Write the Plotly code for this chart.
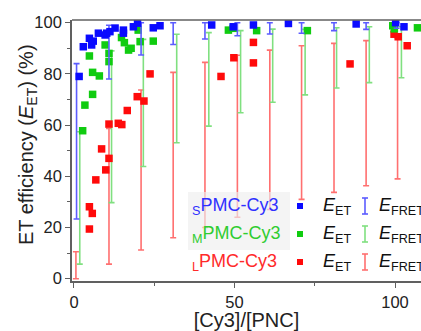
import plotly.graph_objects as go

# ---------------- data ----------------
s_x = [1.6, 2.9, 4.8, 5.5, 6.0, 7.6, 9.7, 10.2, 11.2, 12.8, 15.4, 15.4, 18.5, 19.8, 24.7, 26.8, 42.9, 49.6, 55.9, 66.8, 87.9, 100.2, 102.8]
s_y = [79, 90.6, 93.9, 91.3, 92.8, 95.9, 95.2, 95.9, 96.5, 97.9, 97.1, 95.9, 98.4, 99.8, 98, 98.8, 99.1, 98.4, 99.1, 99.7, 99.5, 100, 98.4]

m_x = [2.7, 3.4, 4.8, 5.8, 5.8, 7.9, 9.7, 10.9, 10.9, 14.8, 15.7, 17.0, 17.8, 20.0, 20.6, 24.7, 48.1, 49.6, 56.9, 72.7, 99.3, 99.8, 107]
m_y = [57.8, 67.8, 87, 72, 80.6, 79.2, 91.3, 88, 84.8, 94.2, 92.2, 89.3, 90, 97.1, 92.6, 92.8, 97.1, 97.8, 96.9, 96.9, 98.8, 97.6, 98]

l_x = [4.8, 5.7, 4.8, 6.8, 8.6, 9.9, 10.9, 10.9, 13.8, 14.9, 16.6, 19.7, 21.8, 23.7, 45.8, 49.8, 55.9, 55.9, 86, 99.7, 101, 103.8]
l_y = [28.1, 25.5, 19.4, 38.6, 50.7, 42.5, 47, 60.4, 60.7, 60.2, 65.7, 71.1, 69.4, 80, 79, 86.3, 92.3, 84.3, 83.9, 95.5, 94.5, 91]

s_fx = [0.8, 10.9, 20.9, 30.9, 40.8, 50.9, 61, 70.9, 81, 91, 100.5]
s_flo = [23.3, 78, 87.4, 91.5, 93.6, 94.9, 95.6, 95.9, 96.9, 97.4, 97.8]
s_fhi = [84, 99, 100, 100, 100, 100, 100, 100, 100, 100, 100]

m_fx = [1.8, 11.7, 21.6, 32, 42, 51.9, 61.9, 72, 81.8, 92, 102]
m_flo = [5.7, 29.7, 43.8, 53.1, 59.6, 64.8, 68.9, 71.8, 74.5, 76.6, 78.5]
m_fhi = [57.4, 89, 93.5, 95.5, 96.1, 96.9, 97.5, 97.4, 98, 98.4, 98.4]

l_fx = [0.6, 10.9, 20.9, 30.9, 40.8, 50.9, 61, 70.9, 81, 91, 100.8]
l_flo = [0, 5.7, 11.2, 16, 20, 24, 27, 31, 33.7, 36.3, 39]
l_fhi = [10.5, 58.7, 73.7, 80.6, 84.5, 87.3, 89.3, 91, 91.9, 93, 94]

x_ticks = [0, 50, 100]
y_ticks = [0, 20, 40, 60, 80, 100]
series_names = ["S", "M", "L"]

# ---------------- styles ----------------
PT = {"S": "#0a0aff", "M": "#10cc10", "L": "#ff0a0a"}
BAR = {"S": "#5c5cff", "M": "#80e080", "L": "#ff7070"}
TXT = {"S": "#3030ff", "M": "#30cc30", "L": "#ff2a2a"}
FONT = "Liberation Sans, Arial, sans-serif"

fig = go.Figure()


def bar_trace(xs, lo, hi, key):
    mid = [(a + b) / 2 for a, b in zip(lo, hi)]
    half = [(b - a) / 2 for a, b in zip(lo, hi)]
    return go.Scatter(
        x=xs, y=mid, mode="markers",
        marker=dict(size=1, color="rgba(0,0,0,0)"),
        error_y=dict(type="data", array=half, symmetric=True,
                     color=BAR[key], thickness=1.6, width=3),
        showlegend=False, hoverinfo="skip")


def pt_trace(xs, ys, key):
    return go.Scatter(
        x=xs, y=ys, mode="markers",
        marker=dict(symbol="square", size=7.5, color=PT[key], line=dict(width=0)),
        showlegend=False)


fig.add_trace(bar_trace(l_fx, l_flo, l_fhi, "L"))
fig.add_trace(bar_trace(m_fx, m_flo, m_fhi, "M"))
fig.add_trace(pt_trace(l_x, l_y, "L"))
fig.add_trace(pt_trace(m_x, m_y, "M"))
fig.add_trace(bar_trace(s_fx, s_flo, s_fhi, "S"))
fig.add_trace(pt_trace(s_x, s_y, "S"))

AX = "#606060"
fig.update_layout(
    width=421, height=331,
    margin=dict(l=72, r=0, t=20, b=50, autoexpand=False),
    paper_bgcolor="white", plot_bgcolor="white",
    font=dict(family=FONT, color="#222222"),
    xaxis=dict(range=[-0.62, 108.1], tickvals=x_ticks, ticks="outside", ticklen=5,
               tickwidth=1.3, tickcolor=AX, showline=True, linecolor=AX, linewidth=1.6,
               showgrid=False, zeroline=False, automargin=False,
               tickfont=dict(size=16.5, family=FONT, color="#222"),
               minor=dict(tickvals=[25, 75], ticks="outside", ticklen=3, tickcolor=AX, tickwidth=1.2),
               title=dict(text="[Cy3]/[PNC]", font=dict(size=20, family=FONT, color="#222"), standoff=6)),
    yaxis=dict(range=[-0.9, 101.05], tickvals=y_ticks, ticks="outside", ticklen=5,
               tickwidth=1.3, tickcolor=AX, showline=True, linecolor=AX, linewidth=1.6,
               showgrid=False, zeroline=False, automargin=False,
               tickfont=dict(size=16.5, family=FONT, color="#222"),
               minor=dict(tickvals=[10, 30, 50, 70, 90], ticks="outside", ticklen=3, tickcolor=AX, tickwidth=1.2)),
)

W, H = 349.0, 261.0


def px(xp):
    return (xp - 72) / W


def py(yp):
    return (281 - yp) / H


# y axis title placed as rotated annotation
fig.add_annotation(xref="paper", yref="paper", x=px(27), y=py(145), xanchor="center", yanchor="middle",
                   text="ET efficiency (<i>E</i><sub>ET</sub>) (%)", textangle=-90, showarrow=False,
                   font=dict(size=20, family=FONT, color="#222"))

# top frame line
fig.add_shape(type="line", xref="paper", yref="paper", x0=0, x1=1, y0=1, y1=1,
              line=dict(color=AX, width=1.6), layer="above")

# ---------------- legend (drawn manually) ----------------
fig.add_shape(type="rect", xref="paper", yref="paper", x0=px(188), x1=px(290), y0=py(250), y1=py(192),
              fillcolor="rgba(238,238,238,0.65)", line=dict(width=0), layer="above")

rows = [206, 234, 262]
for key, ry in zip(series_names, rows):
    fig.add_annotation(xref="paper", yref="paper", x=px(190), y=py(ry), xanchor="left", yanchor="middle",
                       text=f"<sub>{key}</sub>PMC-Cy3", showarrow=False,
                       font=dict(size=18, family=FONT, color=TXT[key]))
    fig.add_shape(type="rect", xref="paper", yref="paper",
                  x0=px(297), x1=px(303), y0=py(ry + 3), y1=py(ry - 3),
                  fillcolor=PT[key], line=dict(width=0), layer="above")
    fig.add_annotation(xref="paper", yref="paper", x=px(321), y=py(ry), xanchor="left", yanchor="middle",
                       text="<i>E</i><sub>ET</sub>", showarrow=False,
                       font=dict(size=18, family=FONT, color="#111"))
    cx = 365
    fig.add_shape(type="line", xref="paper", yref="paper", x0=px(cx), x1=px(cx), y0=py(ry + 8), y1=py(ry - 8),
                  line=dict(color=BAR[key], width=1.6), layer="above")
    for yy in (ry - 8, ry + 8):
        fig.add_shape(type="line", xref="paper", yref="paper", x0=px(cx - 3), x1=px(cx + 3), y0=py(yy), y1=py(yy),
                      line=dict(color=BAR[key], width=1.6), layer="above")
    fig.add_annotation(xref="paper", yref="paper", x=px(377), y=py(ry), xanchor="left", yanchor="middle",
                       text="<i>E</i><sub>FRET</sub>", showarrow=False,
                       font=dict(size=18, family=FONT, color="#111"))

fig.write_html("out.html", config={"displayModeBar": False},
               post_script="document.body.style.margin='0px';document.body.style.overflow='hidden';")
